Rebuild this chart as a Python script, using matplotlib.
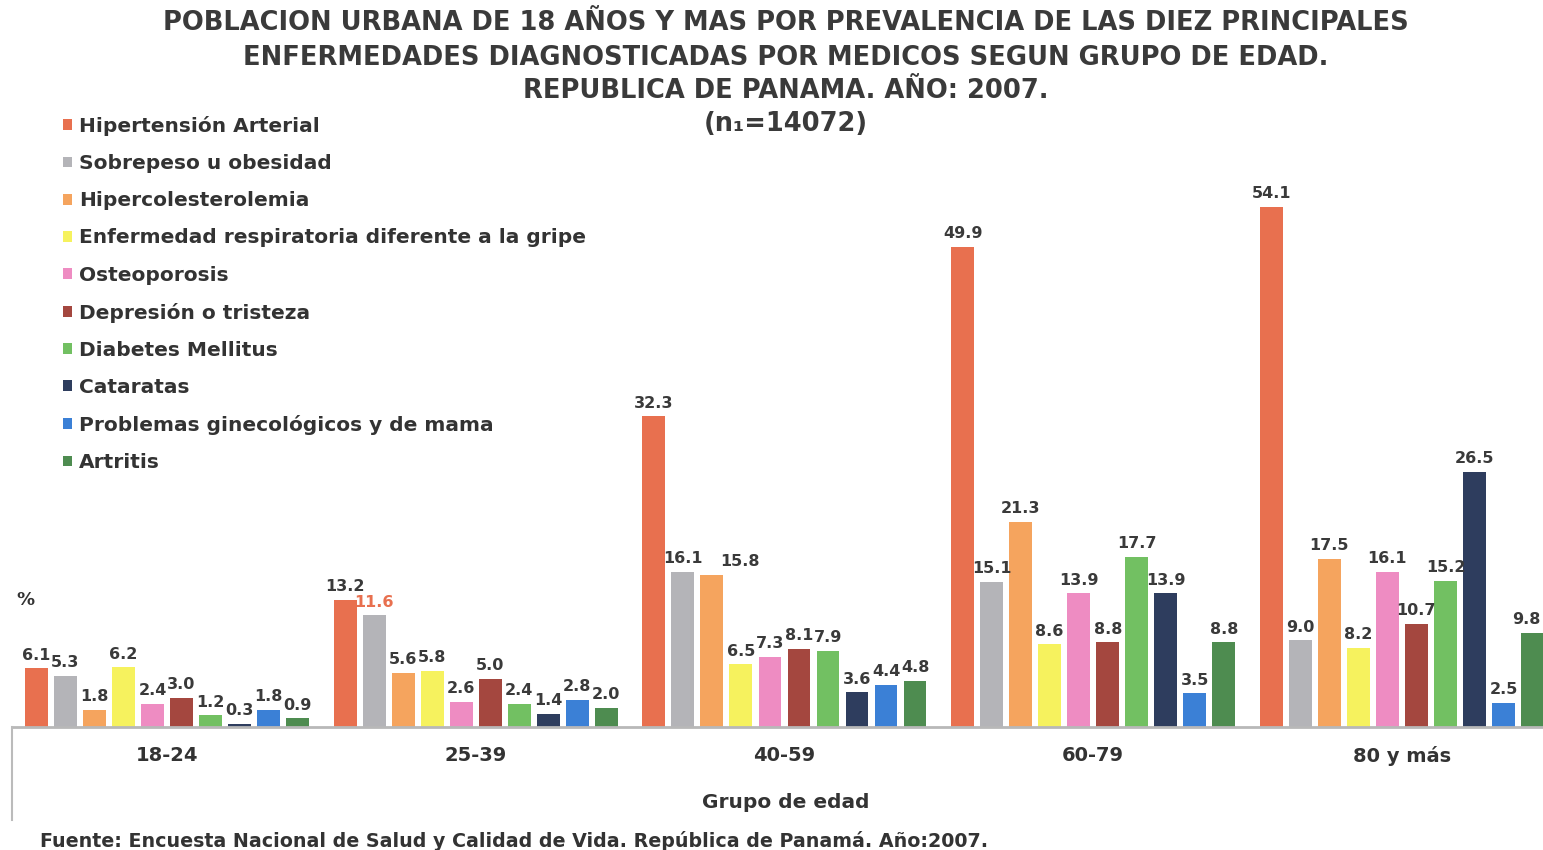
import numpy as np
import matplotlib
matplotlib.use("Agg")
import matplotlib.pyplot as plt
from matplotlib.patches import Patch
from matplotlib.lines import Line2D

grupos = ["18-24", "25-39", "40-59", "60-79", "80 y más"]
enfermedades = [
    "Hipertensión Arterial",
    "Sobrepeso u obesidad",
    "Hipercolesterolemia",
    "Enfermedad respiratoria diferente a la gripe",
    "Osteoporosis",
    "Depresión o tristeza",
    "Diabetes Mellitus",
    "Cataratas",
    "Problemas ginecológicos y de mama",
    "Artritis",
]
# one list per disease, one value per age group (%)
hipertension = [6.1, 13.2, 32.3, 49.9, 54.1]
sobrepeso = [5.3, 11.6, 16.1, 15.1, 9.0]
colesterol = [1.8, 5.6, 15.8, 21.3, 17.5]
respiratoria = [6.2, 5.8, 6.5, 8.6, 8.2]
osteoporosis = [2.4, 2.6, 7.3, 13.9, 16.1]
depresion = [3.0, 5.0, 8.1, 8.8, 10.7]
diabetes = [1.2, 2.4, 7.9, 17.7, 15.2]
cataratas = [0.3, 1.4, 3.6, 13.9, 26.5]
ginecologicos = [1.8, 2.8, 4.4, 3.5, 2.5]
artritis = [0.9, 2.0, 4.8, 8.8, 9.8]

series = [hipertension, sobrepeso, colesterol, respiratoria, osteoporosis,
          depresion, diabetes, cataratas, ginecologicos, artritis]
colores = ["#E8704F", "#B4B4B8", "#F5A45E", "#F6F25E", "#EE8CC2",
           "#A4473F", "#72C062", "#2E3D5E", "#3B80D6", "#4E8C50"]

fig = plt.figure(figsize=(15.43, 8.5), dpi=100)
ax = fig.add_axes([12 / 1543, 123 / 850, 1531 / 1543, 577 / 850])

x = np.arange(len(grupos))
paso = 0.094
ancho = 0.074
for i, (vals, col) in enumerate(zip(series, colores)):
    pos = x + (i - 4.5) * paso
    ax.bar(pos, vals, width=ancho, color=col, label=enfermedades[i])
    for j, (p, v) in enumerate(zip(pos, vals)):
        dx = 0.0
        tcol = "#3a3a3a"
        if (i, j) == (2, 2):   # 15.8 sits right of its bar, as in the original
            dx = 0.09
        if (i, j) == (9, 4):   # last label, keep it inside the figure
            dx = -0.02
        if (i, j) == (1, 1):   # the original shows this label in orange
            tcol = "#E8704F"
        ax.text(p + dx, v + 0.6, f"{v:.1f}", ha="center", va="bottom",
                fontsize=11.5, fontweight="bold", color=tcol)

ax.set_xlim(-0.502, 4.457)
ax.set_ylim(0, 60)
for s in ["top", "right", "left"]:
    ax.spines[s].set_visible(False)
ax.spines["bottom"].set_color("#b8b8b8")
ax.spines["bottom"].set_linewidth(2)
ax.set_yticks([])
ax.set_xticks(x)
ax.set_xticklabels(grupos, fontsize=14, fontweight="bold", color="#333333")
ax.tick_params(axis="x", length=0, pad=14)

fig.add_artist(Line2D([12 / 1543, 12 / 1543], [30 / 850, 123 / 850],
                      color="#bbbbbb", lw=1.5))

leg = ax.legend(handles=[Patch(facecolor=c, label=l) for c, l in zip(colores, enfermedades)],
                loc="upper left", bbox_to_anchor=(55 / 1543, 742 / 850),
                bbox_transform=fig.transFigure, frameon=False,
                handlelength=0.45, handleheight=0.45, handletextpad=0.35,
                labelspacing=0.9, borderaxespad=0,
                prop={"weight": "bold", "size": 14.5})
for t in leg.get_texts():
    t.set_color("#333333")

titulo = ["POBLACION URBANA DE 18 AÑOS Y MAS POR PREVALENCIA DE LAS DIEZ PRINCIPALES",
          "ENFERMEDADES DIAGNOSTICADAS POR MEDICOS SEGUN GRUPO DE EDAD.",
          "REPUBLICA DE PANAMA. AÑO: 2007.",
          "(n₁=14072)"]
for linea, yy in zip(titulo, [23, 58, 91, 124]):
    fig.text(786 / 1543, 1 - yy / 850, linea, ha="center", va="center",
             fontsize=18.5, fontweight="bold", color="#3a3a3a")

fig.text(25 / 1543, 1 - 600 / 850, "%", ha="center", va="center",
         fontsize=13, fontweight="bold", color="#333333")
fig.text(786 / 1543, 1 - 802 / 850, "Grupo de edad", ha="center", va="center",
         fontsize=14.5, fontweight="bold", color="#333333")
fig.text(40 / 1543, 1 - 841 / 850,
         "Fuente: Encuesta Nacional de Salud y Calidad de Vida. República de Panamá. Año:2007.",
         ha="left", va="center", fontsize=13.7, fontweight="bold", color="#333333")

fig.savefig("out.png", dpi=100)
